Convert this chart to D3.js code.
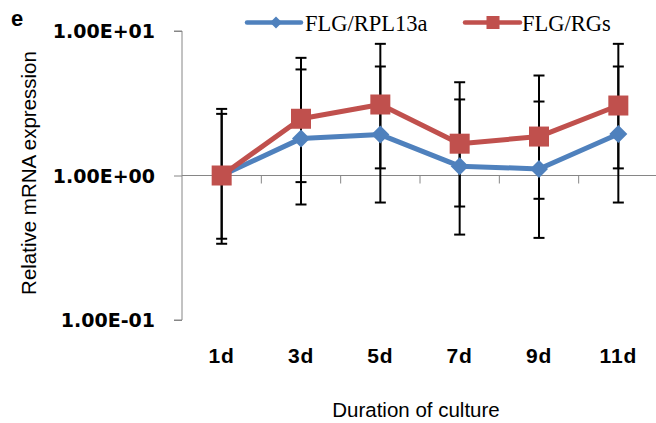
<!DOCTYPE html>
<html><head><meta charset="utf-8">
<script src="https://cdn.jsdelivr.net/npm/d3@7"></script>
<style>body{margin:0;background:#fff}svg{display:block}</style>
</head><body>
<script>
const categories = ["1d","3d","5d","7d","9d","11d"];
const rplValues = [1.00, 1.80, 1.92, 1.16, 1.11, 1.94];
const rplUpper  = [2.89, 5.42, 5.68, 3.36, 3.25, 5.68];
const rplLower  = [0.337, 0.63, 0.65, 0.39, 0.37, 0.65];
const rgsValues = [1.00, 2.47, 3.10, 1.66, 1.86, 3.05];
const rgsUpper  = [2.67, 6.52, 8.15, 4.42, 4.92, 8.15];
const rgsLower  = [0.365, 0.90, 1.12, 0.61, 0.69, 1.12];
const yTicks = [0.1, 1, 10];
const yTickLabels = ["1.00E-01","1.00E+00","1.00E+01"];
const seriesNames = ["FLG/RPL13a","FLG/RGs"];

const W = 656, H = 423;
const svg = d3.select("body").append("svg").attr("width", W).attr("height", H);

const x = d3.scaleBand().domain(categories).range([182, 658]).padding(0);
const y = d3.scaleLog().domain([0.1, 10]).range([320, 31]);
const cx = c => x(c) + x.bandwidth()/2;

const axisColor = "#868686";
// Y axis
const yAxis = svg.append("g").attr("transform","translate(182,0)")
  .call(d3.axisLeft(y).tickValues(yTicks).tickSize(8).tickFormat((d,i)=>yTickLabels[i]));
yAxis.select(".domain").attr("stroke", axisColor).attr("d", `M-8,${y(10)}H0V${y(0.1)}H-8`);
yAxis.selectAll(".tick line").attr("stroke", axisColor);
yAxis.selectAll(".tick text").attr("x", -27).attr("dy", "0.36em")
  .attr("font-family","DejaVu Sans, sans-serif").attr("font-weight","bold")
  .attr("font-size","19px").attr("fill","#000");

// X axis through y=1
const xAxis = svg.append("g").attr("transform",`translate(0,${y(1)})`)
  .call(d3.axisBottom(x).tickSize(0).tickFormat(""));
xAxis.select(".domain").attr("stroke", axisColor).attr("d", `M182,0H656`);
xAxis.selectAll(".tick").remove();
xAxis.selectAll(".bt").data(categories.slice(1)).enter().append("line")
  .attr("x1", d=>x(d)).attr("x2", d=>x(d)).attr("y1",0).attr("y2",8)
  .attr("stroke", axisColor);

// Category labels
svg.append("g").selectAll("text").data(categories).enter().append("text")
  .attr("x", d=>cx(d)).attr("y", 362.5).attr("text-anchor","middle")
  .attr("font-family","Liberation Sans, Arial, sans-serif").attr("font-weight","bold")
  .attr("font-size","21px").attr("letter-spacing","0.8px").text(d=>d);

// Titles
svg.append("text").attr("transform","translate(36,173) rotate(-90)")
  .attr("text-anchor","middle").attr("font-family","Liberation Sans, Arial, sans-serif")
  .attr("font-size","20.5px").text("Relative mRNA expression");
svg.append("text").attr("x",416).attr("y",416.5).attr("text-anchor","middle")
  .attr("font-family","Liberation Sans, Arial, sans-serif")
  .attr("font-size","20.5px").text("Duration of culture");
svg.append("text").attr("x",11).attr("y",26)
  .attr("font-family","Liberation Sans, Arial, sans-serif").attr("font-weight","bold")
  .attr("font-size","22px").text("e");

const series = [
  {name: seriesNames[0], vals: rplValues, up: rplUpper, lo: rplLower, color:"#4F81BD", marker:"diamond"},
  {name: seriesNames[1], vals: rgsValues, up: rgsUpper, lo: rgsLower, color:"#C0504D", marker:"square"}
];

// Error bars
const eb = svg.append("g").attr("stroke","#000").attr("stroke-width",2);
series.forEach(s=>{
  categories.forEach((c,i)=>{
    const px = cx(c);
    eb.append("line").attr("x1",px).attr("x2",px).attr("y1",y(s.lo[i])).attr("y2",y(s.up[i]));
    eb.append("line").attr("x1",px-5.5).attr("x2",px+5.5).attr("y1",y(s.lo[i])).attr("y2",y(s.lo[i]));
    eb.append("line").attr("x1",px-5.5).attr("x2",px+5.5).attr("y1",y(s.up[i])).attr("y2",y(s.up[i]));
  });
});

const line = d3.line().x((d,i)=>cx(categories[i])).y(d=>y(d));
function drawMarker(g, type, px, py, size, color){
  if(type==="diamond"){
    g.append("path").attr("d", `M${px},${py-size}L${px+size},${py}L${px},${py+size}L${px-size},${py}Z`).attr("fill",color);
  } else {
    g.append("rect").attr("x",px-size).attr("y",py-size).attr("width",2*size).attr("height",2*size).attr("fill",color);
  }
}
series.forEach(s=>{
  svg.append("path").datum(s.vals).attr("d",line).attr("fill","none")
    .attr("stroke",s.color).attr("stroke-width",5).attr("stroke-linejoin","round");
  const g = svg.append("g");
  s.vals.forEach((v,i)=>drawMarker(g, s.marker, cx(categories[i]), y(v), s.marker==="diamond"?9:10, s.color));
});

// Legend
const legend = [{x0:247, x1:301, mx:276, tx:305}, {x0:465, x1:520, mx:493, tx:522}];
series.forEach((s,i)=>{
  const L = legend[i];
  svg.append("line").attr("x1",L.x0).attr("x2",L.x1).attr("y1",22.5).attr("y2",22.5)
    .attr("stroke",s.color).attr("stroke-width",4.5).attr("stroke-linecap","round");
  const g = svg.append("g");
  drawMarker(g, s.marker, L.mx, 22.5, s.marker==="diamond"?6:6.5, s.color);
  svg.append("text").attr("x",L.tx).attr("y",31).attr("font-family","Liberation Serif, Times New Roman, serif")
    .attr("font-size","22.5px").text(s.name);
});
</script>
</body></html>
